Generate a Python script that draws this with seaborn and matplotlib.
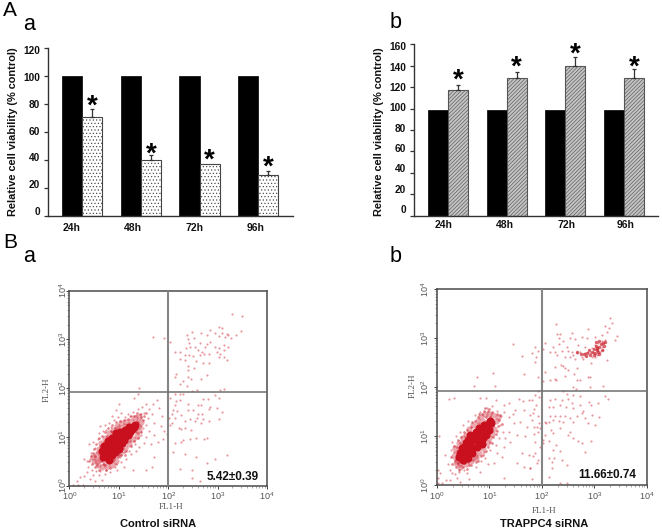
import numpy as np
import pandas as pd
import seaborn as sns
import matplotlib
matplotlib.use("Agg")
import matplotlib.pyplot as plt
from matplotlib.transforms import ScaledTranslation
from matplotlib.ticker import LogLocator, NullFormatter

sns.set_theme(style="white")
plt.rcParams["font.family"] = ["Liberation Sans", "DejaVu Sans"]
plt.rcParams["hatch.linewidth"] = 0.45
plt.rcParams["mathtext.fontset"] = "stix"

# ---------------- bar data ----------------
times = ["24h", "48h", "72h", "96h"]
a_control = [100, 100, 100, 100]
a_treated = [71, 40, 37, 29]
a_upper = [76.5, 44, 37, 32]
a_star = [82, 48, 43.5, 38.5]
b_control = [99, 99, 99, 99]
b_treated = [117, 129, 140, 129]
b_upper = [122, 134, 148, 137]
b_star = [131, 143.5, 155.6, 143.5]
a_yticks = [0, 20, 40, 60, 80, 100, 120]
b_yticks = [0, 20, 40, 60, 80, 100, 120, 140, 160]
ylabel = "Relative cell viability (% control)"

# ---------------- flow cytometry, log10 channel values ----------------
a_core = [(0.79,0.70),(0.86,0.80),(0.93,0.90),(0.99,0.97),(1.06,1.04),(1.13,1.14),(1.20,1.21),(0.89,0.73),
          (0.99,0.83),(0.82,0.87),(0.93,1.00),(1.03,1.11),(1.13,1.00),(1.23,1.11),(1.33,1.24),(1.06,0.87),
          (0.76,0.80),(0.72,0.66),(0.86,0.63),(0.76,0.59),(0.66,0.72),(0.70,0.82),(0.78,0.92),(0.86,0.98),
          (0.94,1.08),(1.10,0.94),(1.18,1.04),(1.26,1.16),(0.92,0.70),(1.00,0.76),(0.68,0.58),(0.80,0.52),
          (1.30,1.20)]
a_halo = [(0.55,0.62),(0.50,0.50),(0.58,0.42),(0.66,0.38),(0.76,0.40),(0.86,0.42),(0.95,0.50),(0.60,0.75),
          (0.65,0.88),(0.72,0.98),(0.80,1.08),(0.88,1.15),(0.96,1.22),(1.05,1.28),(1.14,1.30),(1.24,1.33),
          (1.32,1.38),(1.42,1.40),(1.46,1.30),(1.42,1.15),(1.36,1.02),(1.28,0.95),(1.20,0.85),(1.12,0.78),
          (1.03,0.68),(0.95,0.62),(0.62,0.55),(0.70,0.52),(1.30,1.15),(1.18,0.98),(1.08,0.92),(0.68,0.75),
          (0.78,0.95),(0.90,1.08),(1.00,1.18),(1.12,1.22),(0.98,0.72),(1.38,1.22),(0.48,0.58),(0.56,0.50)]
a_mid = [(0.45,0.45),(0.52,0.38),(0.60,0.32),(0.68,0.45),(0.75,0.33),(0.82,0.36),(0.48,0.68),(0.52,0.60),
         (0.57,0.70),(0.55,0.85),(0.62,0.82),(0.60,0.66),(0.66,0.62),(0.70,0.45),(0.78,0.48),(0.90,0.55),
         (0.98,0.58),(1.05,0.62),(1.10,0.70),(1.15,0.72),(1.25,0.82),(1.30,0.92),(1.38,0.98),(1.40,1.08),
         (1.45,1.22),(1.50,1.35),(1.52,1.42),(1.44,1.48),(1.36,1.50),(1.30,1.42),(1.25,1.44),(1.18,1.36),
         (1.10,1.35),(1.02,1.33),(0.94,1.30),(0.86,1.25),(0.78,1.18),(0.72,1.10),(0.66,1.02),(0.60,0.98),
         (0.70,0.90),(0.76,1.02),(0.84,1.12),(0.92,1.18),(1.00,0.62),(1.08,0.78),(1.16,0.90),(1.24,1.02),
         (1.34,1.10),(1.40,1.30),(0.64,0.50),(0.72,0.42),(0.50,0.75),(0.44,0.60),(0.40,0.50),(0.88,0.50),
         (0.94,0.45),(1.12,0.62),(1.22,0.92),(1.46,1.10),(1.56,1.50),(1.26,1.26),(1.18,1.26),(1.36,1.32),
         (1.46,1.40),(0.56,0.42)]
a_ll = [(0.30,0.20),(0.42,0.14),(0.48,0.22),(0.38,0.38),(0.30,0.55),(0.42,0.55),(0.43,0.68),(0.52,0.78),
        (0.40,0.85),(0.48,0.90),(0.58,0.95),(0.60,1.08),(0.68,1.12),(0.72,1.25),(0.80,1.28),(0.62,1.22),
        (0.90,1.35),(0.98,1.40),(1.05,1.50),(0.95,1.55),(0.86,1.44),(1.00,1.67),(1.18,1.48),(1.28,1.52),
        (1.38,1.58),(1.48,1.62),(1.55,1.68),(1.62,1.58),(1.70,1.68),(1.78,1.75),(1.30,1.79),(1.42,2.01),
        (1.40,1.88),(1.52,1.50),(1.60,1.38),(1.56,1.25),(1.68,1.48),(1.72,1.28),(1.82,1.60),(1.88,1.42),
        (1.62,1.12),(1.72,1.05),(1.85,1.22),(1.92,1.12),(1.80,0.90),(1.90,0.95),(1.65,0.85),(1.52,0.88),
        (1.42,0.80),(1.35,0.72),(1.25,0.65),(1.15,0.55),(1.05,0.48),(1.10,0.38),(0.96,0.32),(0.82,0.28),
        (0.72,0.24),(0.60,0.22),(0.66,0.12),(0.55,0.30),(1.28,0.32),(1.55,0.32),(1.68,0.38),(1.72,0.58),
        (1.55,1.00),(1.45,1.05),(1.50,1.18),(0.46,0.32),(0.36,0.28),(0.22,0.18),(0.15,0.10),(0.08,0.02),
        (0.18,0.02),(0.28,0.02),(0.52,0.10),(0.35,0.50),(0.62,0.30),(0.74,0.32),(0.92,0.38),(1.22,1.42),
        (1.12,1.40),(1.45,1.48),(1.35,1.45),(0.75,1.15),(0.85,1.20),(1.02,0.58),(1.20,0.72),(1.32,0.85)]
a_ur = [(3.29,3.52),(3.50,3.48),(3.48,3.18),(3.37,3.10),(3.02,3.25),(3.09,3.23),(2.95,3.14),(3.09,3.14),
        (3.19,3.12),(3.22,3.10),(3.02,3.07),(3.15,3.06),(3.27,3.03),(2.95,2.85),(3.02,2.82),(3.12,2.88),
        (3.22,2.85),(2.98,2.75),(3.05,2.71),(3.12,2.78),(3.02,2.65),(3.12,2.63),(3.19,2.58),(2.85,3.19),
        (2.78,3.09),(2.67,3.14),(2.48,3.16),(2.38,3.10),(2.53,3.04),(2.40,3.01),(2.42,2.93),(2.65,2.92),
        (2.78,2.91),(2.75,2.85),(2.85,2.95),(2.36,2.82),(2.44,2.84),(2.55,2.85),(2.61,2.78),(2.68,2.75),
        (2.73,2.71),(2.82,2.71),(2.65,2.68),(2.51,2.66),(2.34,2.68),(2.42,2.68),(2.24,2.75),(2.13,2.75),
        (2.23,2.60),(2.34,2.58),(2.56,2.56),(2.71,2.52),(2.82,2.51),(2.41,2.46),(2.53,2.42),(2.41,2.37),
        (2.78,2.27),(2.15,2.29),(2.14,2.23),(2.41,2.22),(2.46,2.19),(2.67,2.19),(2.30,2.15),(2.23,2.08),
        (2.38,2.05),(2.58,1.97),(3.05,1.96),(3.14,1.99),(2.04,2.95),(1.70,3.05),(1.92,3.02)]
a_lr = [(2.13,1.88),(2.24,1.88),(2.31,1.88),(2.48,1.95),(2.71,1.77),(2.80,1.77),(2.94,1.86),(3.02,1.79),
        (2.04,1.79),(2.16,1.74),(2.24,1.76),(2.41,1.68),(2.60,1.66),(2.67,1.66),(2.85,1.62),(2.98,1.59),
        (3.09,1.52),(2.09,1.55),(2.17,1.54),(2.26,1.45),(2.40,1.55),(2.51,1.55),(2.61,1.47),(2.82,1.57),
        (2.68,1.48),(2.71,1.36),(2.82,1.33),(3.02,1.36),(2.44,1.36),(2.34,1.33),(2.55,1.33),(2.02,1.38),
        (2.13,1.38),(2.07,1.28),(2.21,1.18),(2.26,1.16),(2.34,1.18),(2.46,1.14),(2.67,1.28),(2.58,1.38),
        (2.14,1.66),(1.97,1.07),(2.13,0.88),(2.26,0.90),(2.44,0.95),(2.57,0.97),(2.73,0.95),(2.78,0.97),
        (2.31,0.94),(2.09,0.70),(2.34,0.66),(3.19,0.63),(2.56,0.58),(2.95,0.54),(2.78,0.46),(2.24,0.35),
        (2.48,0.32),(2.48,0.15),(2.65,0.10),(2.04,1.24),(1.99,1.38),(2.07,1.47)]

b_core = [(0.51,0.68),(0.58,0.75),(0.64,0.85),(0.70,0.92),(0.77,0.99),(0.83,1.05),(0.89,1.12),(0.96,1.22),
          (1.01,1.31),(0.61,0.65),(0.70,0.75),(0.80,0.85),(0.89,0.95),(0.64,1.02),(0.74,1.09),(0.55,0.85),
          (0.48,0.75),(0.45,0.65),(0.55,0.58),(0.80,1.16),(0.42,0.58),(0.50,0.52),(0.60,0.55),(0.68,0.66),
          (0.76,0.78),(0.86,0.84),(0.94,1.02),(1.00,1.12),(0.90,1.22),(0.70,1.00),(0.60,0.92),(0.52,0.78),
          (1.04,1.26)]
b_halo = [(0.35,0.75),(0.32,0.60),(0.38,0.50),(0.45,0.42),(0.55,0.42),(0.65,0.48),(0.75,0.55),(0.42,0.85),
          (0.50,0.95),(0.55,1.02),(0.62,1.15),(0.70,1.22),(0.78,1.30),(0.85,1.38),(0.92,1.45),(1.00,1.45),
          (1.08,1.42),(1.12,1.30),(1.10,1.15),(1.05,1.05),(1.00,0.95),(0.95,0.85),(0.88,0.75),(0.80,0.65),
          (0.72,0.60),(0.60,0.55),(0.48,0.52),(0.40,0.68),(0.36,0.45),(0.44,0.36),(1.04,1.20),(0.90,1.28),
          (0.96,1.05),(0.85,0.92),(0.66,0.70),(0.58,0.92),(0.70,1.02),(0.80,1.22),(0.52,0.48),(1.16,1.38)]
b_mid = [(0.30,0.42),(0.36,0.36),(0.42,0.30),(0.50,0.36),(0.58,0.32),(0.66,0.40),(0.33,0.68),(0.38,0.60),
         (0.42,0.72),(0.38,0.78),(0.45,0.85),(0.50,0.90),(0.46,0.98),(0.52,1.08),(0.58,1.12),(0.66,1.18),
         (0.72,1.30),(0.78,1.38),(0.86,1.45),(0.90,1.52),(0.98,1.52),(1.06,1.50),(1.14,1.45),(1.18,1.32),
         (1.16,1.20),(1.12,1.05),(1.08,0.98),(1.02,0.88),(0.98,0.78),(0.90,0.68),(0.84,0.60),(0.78,0.50),
         (0.70,0.52),(0.60,0.46),(0.52,0.44),(0.45,0.48),(0.94,1.38),(1.02,1.38),(1.08,1.28),(0.88,0.62),
         (0.94,0.70),(1.05,0.85),(1.15,1.10),(0.62,0.40),(0.74,0.46),(0.40,0.44),(0.34,0.52),(0.28,0.58),
         (0.32,0.80),(0.40,0.92),(0.68,1.28),(0.80,1.45),(0.92,1.58),(1.00,1.55),(1.20,1.42),(1.25,1.25)]
b_ll = [(1.28,1.63),(1.37,1.67),(1.56,1.75),(1.64,1.71),(1.75,1.73),(1.94,1.80),(1.50,1.53),(1.66,1.53),
        (1.85,1.56),(1.37,1.39),(1.47,1.26),(1.59,1.29),(1.72,1.19),(1.82,1.33),(1.91,1.19),(1.37,1.09),
        (1.53,1.02),(1.69,0.99),(1.85,1.05),(1.40,0.88),(1.28,0.78),(1.15,0.65),(1.24,0.58),(1.53,0.44),
        (1.66,0.37),(1.78,0.34),(1.75,0.61),(1.62,0.65),(1.88,0.65),(1.91,0.44),(1.28,0.14),(1.82,0.12),
        (1.88,0.88),(0.83,1.77),(0.93,1.77),(0.32,1.78),(0.23,1.75),(1.12,1.73),(1.28,1.50),(0.05,0.99),
        (0.16,0.61),(0.29,0.24),(0.17,0.10),(0.45,0.07),(0.07,0.24),(0.26,0.10),(0.39,0.15),(0.58,0.24),
        (0.74,0.37),(0.83,0.27),(0.22,0.42),(0.25,0.30),(0.35,0.22),(0.42,0.26),(0.52,0.30),(0.28,0.72),
        (0.30,0.88),(0.36,1.00),(0.44,1.08),(0.50,1.22),(0.60,1.30),(0.72,1.42),(0.82,1.50),(0.95,1.58),
        (1.05,1.62),(1.15,1.52),(1.22,1.40),(1.20,1.22),(1.26,1.08),(1.18,0.95),(1.12,0.82),(1.02,0.72),
        (0.92,0.55),(0.85,0.48),(0.98,0.42),(1.10,0.45),(1.30,0.95),(1.45,1.45),(1.78,1.42),(0.02,0.05),
        (0.02,0.14),(0.02,0.30),(0.10,0.04),(0.62,0.12)]
b_ur = [(3.05,2.76),(3.11,2.72),(2.98,2.72),(2.92,2.69),(3.05,2.65),(3.14,2.93),(3.08,2.89),(3.21,2.96),
        (3.01,2.86),(2.95,2.79),(3.14,2.82),(2.89,2.72),(2.82,2.69),(2.73,2.72),(2.67,2.69),(2.57,2.72),
        (2.51,2.74),(2.60,2.65),(2.76,2.62),(2.95,2.62),(3.01,2.61),(3.17,2.76),
        (3.30,3.40),(3.33,3.30),(3.21,3.25),(3.29,3.20),(3.44,3.04),(3.40,2.96),(3.24,3.13),(3.14,3.06),
        (3.01,3.03),(2.86,3.01),(2.76,3.03),(2.89,3.18),(2.57,3.11),(2.35,3.08),(2.29,3.08),(2.32,2.99),
        (2.54,2.99),(2.63,2.97),(2.41,2.93),(2.32,2.88),(2.06,2.89),(2.22,2.82),(2.03,2.77),(2.16,2.72),
        (2.25,2.72),(2.38,2.74),(2.48,2.82),(2.70,2.86),(2.82,2.82),(2.29,2.65),(2.44,2.62),(2.54,2.61),
        (2.63,2.57),(2.79,2.57),(3.25,2.55),(2.93,2.50),(1.87,2.82),(1.93,2.74),(1.81,2.69),(1.89,2.62),
        (1.87,2.52),(2.27,3.29),(2.36,2.45),(2.41,2.42),(2.44,2.38),(2.25,2.40),(2.51,2.35),(2.68,2.38),
        (2.62,2.27),(2.06,2.30),(1.92,2.20),(2.03,2.12),(2.16,2.14),(2.25,2.16),(2.28,2.14),(2.44,2.22),
        (2.67,2.14),(2.72,2.14),(2.89,2.20),(2.92,2.20),(2.60,1.99),(2.65,1.95),(2.92,1.99),(3.16,2.03),
        (1.45,2.88),(1.07,2.29),(0.76,2.21),(0.71,2.03),(1.11,2.03),(1.63,2.64),(1.67,2.27)]
b_ur_dense = [(3.05,2.76),(3.08,2.72),(3.02,2.70),(2.96,2.72),(3.10,2.82),(3.12,2.88),(3.06,2.80),(2.92,2.66),
              (3.00,2.66),(3.14,2.76),(2.86,2.70),(2.80,2.68),(3.16,2.90),(3.04,2.84),(3.00,2.78),(2.90,2.76),
              (3.10,2.68),(2.84,2.64),(2.74,2.68),(2.68,2.72),(3.18,2.84),(3.20,2.92),(3.10,2.94),(3.04,2.92)]
b_lr = [(2.41,1.92),(2.48,1.86),(2.60,1.84),(2.72,1.82),(3.20,1.82),(3.26,1.76),(2.16,1.74),(2.25,1.75),
        (2.38,1.74),(2.51,1.75),(2.57,1.67),(2.91,1.70),(3.08,1.68),(2.73,1.63),(2.94,1.63),(2.13,1.60),
        (2.22,1.60),(2.35,1.63),(2.46,1.60),(2.60,1.57),(2.79,1.52),(2.76,1.46),(2.95,1.43),(3.10,1.38),
        (2.16,1.40),(2.25,1.41),(2.35,1.41),(2.44,1.40),(2.54,1.36),(2.67,1.40),(2.13,1.29),(2.22,1.33),
        (2.32,1.31),(2.41,1.29),(2.60,1.29),(2.82,1.36),(3.02,1.23),(2.89,1.26),(2.06,1.29),(2.09,1.26),
        (2.17,1.12),(2.35,1.16),(2.54,1.09),(2.51,1.02),(2.60,0.95),(2.22,1.06),(2.06,1.02),(2.03,0.85),
        (2.14,0.89),(2.70,0.89),(2.76,0.85),(2.93,0.89),(2.82,0.68),(2.28,0.82),(2.22,0.72),(2.35,0.70),
        (2.13,0.55),(2.19,0.46),(2.23,0.55),(2.38,0.51),(2.48,0.41),(2.19,0.34),(2.13,0.16),(2.35,0.05),
        (2.48,0.05),(1.81,1.74),(1.87,1.84),(1.93,1.91),(1.90,1.63),(1.83,1.46),(1.92,1.41),(1.95,1.26),
        (1.85,1.18),(1.97,1.16),(1.92,1.09),(2.02,0.92),(1.97,0.78),(1.83,0.59),(1.92,0.51),(1.78,0.34)]

# ---------------- layout helpers ----------------
W, H = 662, 531
fig = plt.figure(figsize=(W / 100, H / 100), dpi=100, facecolor="white")


def box(l, t, r, b):
    return fig.add_axes([l / W, 1 - b / H, (r - l) / W, (b - t) / H])


def ftext(x, y, s, **kw):
    fig.text(x / W, 1 - y / H, s, ha=kw.pop("ha", "center"), va=kw.pop("va", "center"), **kw)


def bars(rect, xlim, control, treated, upper, star, yticks, ymax, label_pos, pad, face, edge, hatch, shift):
    ax = box(*rect)
    df = pd.DataFrame({"time": times * 2,
                       "value": list(control) + list(treated),
                       "group": ["control"] * 4 + ["siRNA"] * 4})
    sns.barplot(data=df, x="time", y="value", hue="group", palette=["black", face], width=0.683,
                gap=0, saturation=1, errorbar=None, legend=False, ax=ax)
    cont = ax.containers
    for p in cont[0]:
        p.set_edgecolor("black")
        p.set_linewidth(0.5)
    centers = []
    for p in cont[1]:
        p.set_facecolor(face)
        p.set_edgecolor(edge)
        p.set_hatch(hatch)
        p.set_linewidth(0.8)
        centers.append(p.get_x() + p.get_width() / 2)
    for c, t, u in zip(centers, treated, upper):
        if u > t:
            ax.errorbar([c], [t], yerr=[[0], [u - t]], color="#333333", elinewidth=0.9, capsize=1.3,
                        capthick=0.9, zorder=1)
    for c, s in zip(centers, star):
        ax.annotate("*", (c, s), xytext=(0, -9), textcoords="offset points", ha="center", va="baseline",
                    fontsize=20, fontweight="bold", color="black", annotation_clip=False)
    ax.set_xlim(*xlim)
    ax.set_ylim(0, ymax)
    ax.set_yticks(yticks)
    ax.set_yticklabels([str(v) for v in yticks], fontsize=7.3, fontweight="bold", color="#111111")
    ax.set_xticks(label_pos)
    ax.set_xticklabels(times, fontsize=7.5, fontweight="bold", color="#111111")
    ax.set_xlabel("")
    ax.set_ylabel("")
    ax.tick_params(axis="y", length=3, width=0.9, color="#333333", pad=2.5, left=True)
    ax.tick_params(axis="x", length=0, pad=pad)
    for lab, v in zip(ax.get_yticklabels(), yticks):
        dy = (shift - (v / ymax) * (shift + 2)) * 0.72
        lab.set_transform(lab.get_transform() + ScaledTranslation(0, dy / 72, fig.dpi_scale_trans))
    sns.despine(ax=ax)
    for s in ("left", "bottom"):
        ax.spines[s].set_color("#333333")
        ax.spines[s].set_linewidth(1.0)
    ax.set_facecolor("white")
    return ax


bars((48, 48.3, 293, 216), (-0.585, 3.595), a_control, a_treated, a_upper, a_star, a_yticks, 120,
     [-0.18, 0.86, 1.91, 2.96], 5, "white", "#444444", ".....", 5)
bars((414, 44.3, 658, 215.7), (-0.58, 3.58), b_control, b_treated, b_upper, b_star, b_yticks, 160,
     [-0.07, 0.97, 2.02, 3.02], 3, "#c4c4c4", "#555555", "/////////", 6.5)
ftext(12.7, 131.7, ylabel, rotation=90, fontsize=7.9, fontweight="bold", color="#111111")
ftext(379, 131.7, ylabel, rotation=90, fontsize=7.9, fontweight="bold", color="#111111")


def flow(rect, core, halo, mid, sparse, dense, hline, vline, xpad, ypad, ylabel_up):
    ax = box(*rect)
    red = "#c8101e"

    def layer(points, size, colour, alpha):
        xy = np.array(points)
        sns.scatterplot(x=10 ** xy[:, 0], y=10 ** xy[:, 1], s=size, color=colour, alpha=alpha, linewidth=0, ax=ax)

    layer(sparse, 2.4, "#d0303c", 0.5)
    layer(mid, 3.6, "#d0303c", 0.6)
    layer(halo, 20, "#d03040", 0.42)
    layer(core, 34, red, 1.0)
    if dense:
        layer(dense, 6, red, 0.65)
    ax.set_xscale("log")
    ax.set_yscale("log")
    ax.set_xlim(1, 1e4)
    ax.set_ylim(1, 1e4)
    ax.axvline(10 ** vline, color="#858585", lw=1.5, zorder=5)
    ax.axhline(10 ** hline, color="#6e6e6e", lw=1.1, zorder=5)
    ticks = [1, 10, 100, 1000, 10000]
    labels = [rf"$\mathregular{{10^{{{k}}}}}$" for k in range(5)]
    ax.set_xticks(ticks)
    ax.set_yticks(ticks)
    ax.set_xticklabels(labels, fontsize=6.5, color="#555555")
    ax.set_yticklabels(labels, fontsize=6.5, color="#555555", rotation=90, va="center")
    for lab in ax.get_yticklabels():
        lab.set_transform(lab.get_transform() + ScaledTranslation(0, ylabel_up / 100, fig.dpi_scale_trans))
    for a in (ax.xaxis, ax.yaxis):
        a.set_minor_locator(LogLocator(base=10, subs=np.arange(2, 10), numticks=10))
        a.set_minor_formatter(NullFormatter())
    ax.tick_params(which="major", length=2.5, width=0.7, color="#444444", left=True, bottom=True)
    ax.tick_params(axis="x", which="major", pad=xpad)
    ax.tick_params(axis="y", which="major", pad=ypad)
    ax.tick_params(which="minor", length=1.3, width=0.4, color="#666666", left=True, bottom=True)
    for s in ax.spines.values():
        s.set_visible(True)
        s.set_color("#4a4a4a")
        s.set_linewidth(1.1)
    ax.set_facecolor("white")
    return ax


flow((69.3, 290.7, 267, 485.7), a_core, a_halo, a_mid, a_ll + a_ur + a_lr, None, 1.92, 1.99, 0.5, -2, 6)
flow((436.7, 289, 646.7, 485), b_core, b_halo, b_mid, b_ll + b_ur + b_lr, b_ur_dense, 1.92, 2.0, 1.5, 1.5, 2)

serif = ["Liberation Serif", "DejaVu Serif"]
ftext(171, 507, "FL1-H", fontsize=6.6, color="#555555", family=serif)
ftext(46.7, 390, "FL2-H", rotation=90, fontsize=6.6, color="#555555", family=serif)
ftext(544, 510.7, "FL1-H", fontsize=6.6, color="#555555", family=serif)
ftext(413, 386, "FL2-H", rotation=90, fontsize=6.6, color="#555555", family=serif)
ftext(233, 477, "5.42\u00b10.39", fontsize=8.5, fontweight="bold", color="#111111")
ftext(607, 475, "11.66\u00b10.74", fontsize=8.5, fontweight="bold", color="#111111")
ftext(158, 524, "Control siRNA", fontsize=8, fontweight="bold", color="#111111")
ftext(544, 524, "TRAPPC4 siRNA", fontsize=8, fontweight="bold", color="#111111")

ftext(10, 11, "A", fontsize=15, color="black")
ftext(29, 24, "a", fontsize=15.5, color="black")
ftext(395.5, 23, "b", fontsize=15.5, color="black")
ftext(10, 243, "B", fontsize=15, color="black")
ftext(29, 257, "a", fontsize=15.5, color="black")
ftext(395.5, 257, "b", fontsize=15.5, color="black")

fig.savefig("out.png", dpi=100, facecolor="white")
